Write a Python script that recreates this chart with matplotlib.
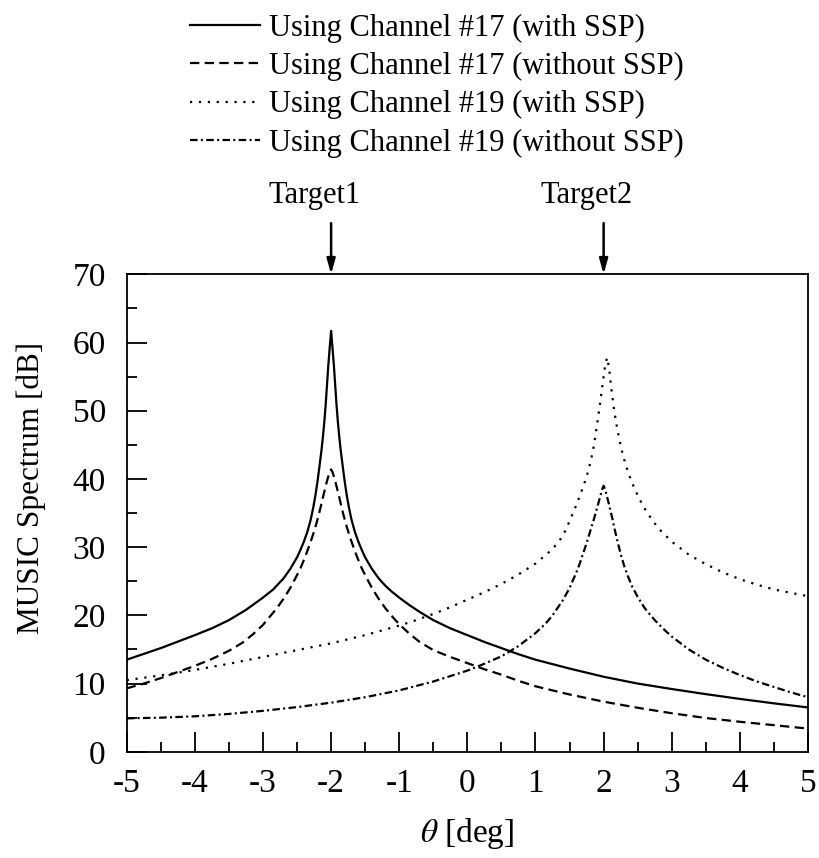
import matplotlib
matplotlib.use("Agg")
import matplotlib.pyplot as plt
from matplotlib.ticker import MultipleLocator

plt.rcParams['font.family'] = ['Liberation Serif', 'DejaVu Serif']
plt.rcParams['mathtext.fontset'] = 'stix'
plt.rcParams['axes.unicode_minus'] = False

# Channel #17 with SSP (peak at -2 deg)
theta_17s = [-5, -4.5, -4, -3.75, -3.5, -3.25, -3, -2.85, -2.7, -2.6, -2.5, -2.45, -2.4, -2.35, -2.3, -2.26, -2.23, -2.2,
             -2.17, -2.14, -2.12, -2.1, -2.08, -2.06, -2.04, -2.03, -2.02, -2.01, -2.0,
             -1.99, -1.98, -1.97, -1.96, -1.94, -1.92, -1.9, -1.88, -1.86, -1.83, -1.8, -1.77, -1.74, -1.7, -1.65, -1.6, -1.55,
             -1.5, -1.4, -1.3, -1.2, -1.1, -1.0, -0.85, -0.7, -0.5, -0.25, 0, 0.25, 0.5, 0.75, 1, 1.5, 2, 2.5, 3, 3.5, 4, 4.5, 5]
spec_17s = [13.5, 15.2, 17.1, 18.1, 19.3, 20.8, 22.6, 23.8, 25.4, 26.8, 28.5, 29.6, 30.8, 32.2, 34.0, 35.9, 37.6, 39.6,
            41.9, 44.3, 46.2, 48.3, 50.8, 53.8, 56.8, 58.0, 59.3, 60.5, 61.7,
            60.5, 59.3, 58.0, 56.8, 53.8, 50.8, 48.3, 46.2, 44.3, 41.9, 39.6, 37.6, 35.9, 34.0, 32.2, 30.8, 29.6,
            28.5, 26.8, 25.4, 24.3, 23.4, 22.6, 21.5, 20.5, 19.3, 18.1, 17.1, 16.1, 15.2, 14.3, 13.5, 12.2, 11.0, 10.0, 9.2, 8.45, 7.75, 7.1, 6.5]

# Channel #17 without SSP (peak at -2 deg)
theta_17n = [-5, -4.75, -4.5, -4.25, -4, -3.75, -3.5, -3.3, -3.15, -3.0, -2.9, -2.8, -2.7, -2.6, -2.5, -2.45, -2.4, -2.35,
             -2.3, -2.26, -2.22, -2.18, -2.15, -2.12, -2.1, -2.08, -2.06, -2.04, -2.02, -2.0,
             -1.98, -1.96, -1.94, -1.92, -1.9, -1.88, -1.85, -1.82, -1.78, -1.74, -1.7, -1.65, -1.6, -1.55, -1.5, -1.4, -1.3,
             -1.2, -1.1, -1.0, -0.85, -0.7, -0.5, -0.25, 0, 0.25, 0.5, 0.75, 1, 1.5, 2, 2.5, 3, 3.5, 4, 4.5, 5]
spec_17n = [9.3, 10.0, 10.8, 11.7, 12.6, 13.6, 14.8, 16.0, 17.2, 18.6, 19.8, 21.0, 22.4, 24.0, 25.9, 26.9, 28.1, 29.4,
            30.8, 32.0, 33.3, 34.8, 36.0, 37.3, 38.1, 38.9, 39.7, 40.4, 41.0, 41.4,
            41.0, 40.4, 39.7, 38.9, 38.1, 37.3, 36.0, 34.8, 33.3, 32.0, 30.8, 29.4, 28.1, 26.9, 25.9, 24.0, 22.4,
            21.0, 19.8, 18.7, 17.3, 16.1, 14.9, 13.9, 13.0, 12.1, 11.3, 10.4, 9.6, 8.4, 7.35, 6.45, 5.65, 4.95, 4.4, 3.9, 3.4]

# Channel #19 with SSP (peak near +2 deg)
theta_19s = [-5, -4.5, -4, -3.5, -3, -2.5, -2, -1.5, -1, -0.75, -0.5, -0.25, 0, 0.25, 0.5, 0.75, 1, 1.25, 1.4, 1.5, 1.6,
             1.68, 1.75, 1.81, 1.85, 1.89, 1.93, 1.96, 1.99, 2.02, 2.05,
             2.08, 2.11, 2.15, 2.19, 2.23, 2.28, 2.33, 2.38, 2.44, 2.5, 2.57, 2.65, 2.8, 3.0, 3.25, 3.5, 3.75, 4, 4.25, 4.5, 4.75, 5]
spec_19s = [10.5, 11.2, 12.0, 12.9, 13.9, 14.9, 15.9, 17.1, 18.5, 19.3, 20.2, 21.2, 22.3, 23.4, 24.6, 26.0, 27.6, 29.7, 31.6, 33.8, 36.2,
            38.3, 40.3, 42.6, 44.5, 47.0, 49.8, 52.0, 54.3, 56.5, 57.8,
            56.3, 53.5, 50.4, 47.9, 45.8, 43.6, 41.9, 40.4, 38.9, 37.6, 36.2, 34.9, 32.8, 30.8, 28.9, 27.5, 26.3, 25.3, 24.5, 23.8, 23.3, 22.8]

# Channel #19 without SSP (peak at +2 deg)
theta_19n = [-5, -4.5, -4, -3.5, -3, -2.5, -2, -1.5, -1, -0.5, 0, 0.25, 0.5, 0.75, 1.0, 1.15, 1.25, 1.4, 1.5, 1.6, 1.65, 1.71, 1.75,
             1.79, 1.82, 1.86, 1.9, 1.93, 1.96, 1.98, 2.0,
             2.02, 2.04, 2.07, 2.1, 2.13, 2.16, 2.2, 2.25, 2.3, 2.35, 2.42, 2.5, 2.6, 2.75, 2.9, 3.0, 3.25, 3.5, 3.75, 4.0, 4.25, 4.5, 4.75, 5]
spec_19n = [4.9, 5.0, 5.2, 5.55, 6.0, 6.55, 7.2, 8.0, 9.0, 10.3, 11.9, 12.9, 14.0, 15.5, 17.4, 18.8, 20.0, 22.2, 24.0, 26.3, 27.6, 29.4, 30.6,
            31.9, 32.9, 34.2, 35.6, 36.7, 37.8, 38.5, 39.0,
            38.5, 37.8, 36.6, 35.4, 34.1, 32.7, 31.0, 29.0, 27.3, 25.9, 24.2, 22.7, 21.1, 19.3, 17.8, 16.9, 15.0, 13.5, 12.3, 11.25, 10.3, 9.5, 8.7, 8.0]

labels = ["Using Channel #17 (with SSP)",
          "Using Channel #17 (without SSP)",
          "Using Channel #19 (with SSP)",
          "Using Channel #19 (without SSP)"]
target_angles = [-2, 2]
target_names = ["Target1", "Target2"]

fig = plt.figure(figsize=(8.19, 8.58), dpi=100)
ax = fig.add_axes([0.1547, 0.1238, 0.8319, 0.5565])

lw = 1.6
l1, = ax.plot(theta_17s, spec_17s, color='black', lw=lw, linestyle='-')
l2, = ax.plot(theta_17n, spec_17n, color='black', lw=lw, linestyle=(0, (4.2, 2.4)))
l3, = ax.plot(theta_19s, spec_19s, color='black', lw=lw, linestyle=(0, (1.0, 3.0)))
l4, = ax.plot(theta_19n, spec_19n, color='black', lw=lw, linestyle=(0, (3.4, 1.5, 0.9, 1.5)))

ax.set_xlim(-5, 5)
ax.set_ylim(0, 70)
ax.xaxis.set_major_locator(MultipleLocator(1))
ax.xaxis.set_minor_locator(MultipleLocator(0.5))
ax.yaxis.set_major_locator(MultipleLocator(10))
ax.yaxis.set_minor_locator(MultipleLocator(5))
ax.tick_params(which='both', direction='in', top=False, right=False, width=1.3, labelsize=24)
ax.tick_params(which='major', length=14.5)
ax.tick_params(which='minor', length=7.2)
ax.tick_params(axis='x', pad=12)
ax.tick_params(axis='y', pad=15)
for s in ax.spines.values():
    s.set_linewidth(1.3)

ax.set_xlabel(r"$\theta$ [deg]", fontsize=24, labelpad=12)
ax.set_ylabel("MUSIC Spectrum [dB]", fontsize=22.5)
ax.yaxis.set_label_coords(-0.118, 0.552)

for ang, name in zip(target_angles, target_names):
    ax.annotate("", xy=(ang, 70), xytext=(ang, 70 + 7.5), xycoords='data',
                arrowprops=dict(arrowstyle='-|>,head_length=0.9,head_width=0.25', color='black', lw=1.8,
                                shrinkA=0, shrinkB=0),
                annotation_clip=False)
    ax.annotate(name, xy=(ang, 70 + 9.5), xytext=(-12, 0), textcoords='offset points',
                ha='center', va='bottom', fontsize=22, annotation_clip=False)

fig.legend([l1, l2, l3, l4], labels, loc='upper left', bbox_to_anchor=(0.232, 0.984),
           frameon=False, fontsize=22, handlelength=2.3, handletextpad=0.3,
           labelspacing=0.3, borderaxespad=0.0, borderpad=0.0)

fig.savefig("out.png", dpi=100)
